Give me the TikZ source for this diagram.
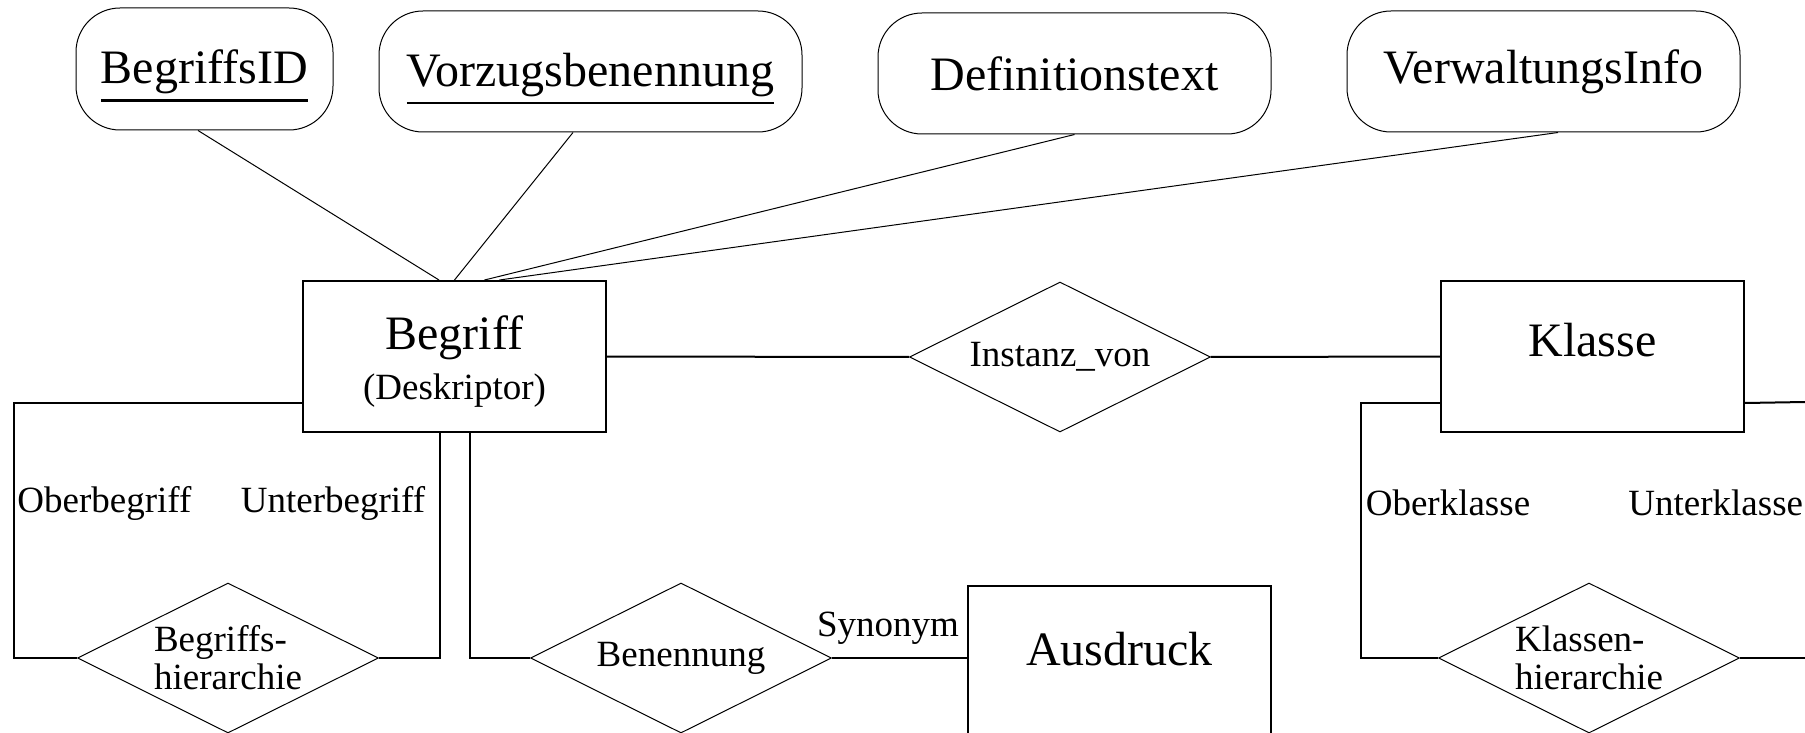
\documentclass[tikz,border=0pt]{standalone}
\usepackage{fontspec}
\setmainfont{Liberation Serif}
\usetikzlibrary{shapes.geometric}

\newcommand{\keyname}[1]{\setbox0=\hbox{#1}\rlap{\copy0}\rule[-9pt]{\wd0}{1.3pt}}
\newcommand{\smallsize}{\fontsize{18.5}{19}\selectfont}

\tikzset{
 attrib/.style={draw, line width=0.5pt, rounded corners=22pt, inner sep=0pt,
  font=\fontsize{24}{25}\selectfont},
 keyattrib/.style={attrib, text height=24pt},
 entity/.style={draw, line width=1pt, minimum width=151.5pt, minimum height=75.5pt,
  inner sep=0pt, font=\fontsize{24}{25}\selectfont},
 relship/.style={draw, diamond, aspect=2, inner sep=0pt, line width=0.5pt,
  minimum width=150.5pt, minimum height=75pt, align=left, font=\smallsize},
 role/.style={inner sep=0pt, font=\smallsize},
 link/.style={line width=1pt},
 attlink/.style={line width=0.5pt}
}

\begin{document}
\begin{tikzpicture}[x=0.5pt, y=-0.5pt]
 \useasboundingbox (0,0) rectangle (1805,733);

 \node[keyattrib, minimum width=128.5pt, minimum height=61pt] (begid) at (204.5,69) {\keyname{BegriffsID}};
 \node[keyattrib, minimum width=211.5pt, minimum height=60.5pt] (vorzug) at (590.5,71.5) {\keyname{Vorzugsbenennung}};
 \node[attrib, minimum width=196.5pt, minimum height=60.5pt] (deftext) at (1074.5,73.5) {Definitionstext};
 \node[attrib, minimum width=196.5pt, minimum height=60.5pt] (verwinfo) at (1543.5,71.5) {VerwaltungsInfo};

 \node[entity, align=center] (begriff) at (454.5,356.5) {\rule{0pt}{21.5pt}Begriff\\{\smallsize (Deskriptor)}};
 \node[entity, text depth=17pt] (klasse) at (1592.5,356.5) {Klasse};
 \node[entity, text depth=12.4pt] (ausdruck) at (1119.5,661.5) {Ausdruck};

 \node[relship] (instanz) at (1060,357) {Instanz\_von};
 \node[relship] (bhier) at (228,658) {Begriffs-\\hierarchie};
 \node[relship] (benennung) at (681,658) {Benennung};
 \node[relship] (khier) at (1589,658) {Klassen-\\hierarchie};

 \coordinate (kright) at (1805,402);
 \coordinate (khright) at (1805,658);

 \draw[attlink] ([xshift=-3.25pt]begid.south) -- ([xshift=-7.75pt]begriff.north);
 \draw[attlink] ([xshift=-8.75pt]vorzug.south) -- (begriff.north);
 \draw[attlink] (deftext.south) -- ([xshift=15pt]begriff.north);
 \draw[attlink] ([xshift=7.25pt]verwinfo.south) -- ([xshift=22.5pt]begriff.north);

 \draw[link] (begriff) -- (instanz) -- (klasse);
 \draw[link] ([yshift=15pt]begriff.south west) -- ++(-288,0) |- (bhier.west);
 \draw[link] (bhier.east) -| ([xshift=-7.25pt]begriff.south);
 \draw[link] ([xshift=7.75pt]begriff.south) |- (benennung.west);
 \draw[link] (benennung.east) -- (benennung.east -| ausdruck.west);
 \draw[link] ([yshift=15pt]klasse.south west) -- ++(-79,0) |- (khier.west);
 \draw[link] ([yshift=15pt]klasse.south east) -- (kright);
 \draw[link] (khier.east) -- (khright);

 \node[role, anchor=west] (oberb) at (17,503) {Oberbegriff};
 \node[role] (unterb) at (333,503) {Unterbegriff};
 \node[role] (oberk) at (1448,503) {Oberklasse};
 \node[role, anchor=west] (unterk) at (1628,503) {Unterklasse};
 \node[role] (synonym) at (888,628) {Synonym};
\end{tikzpicture}
\end{document}
